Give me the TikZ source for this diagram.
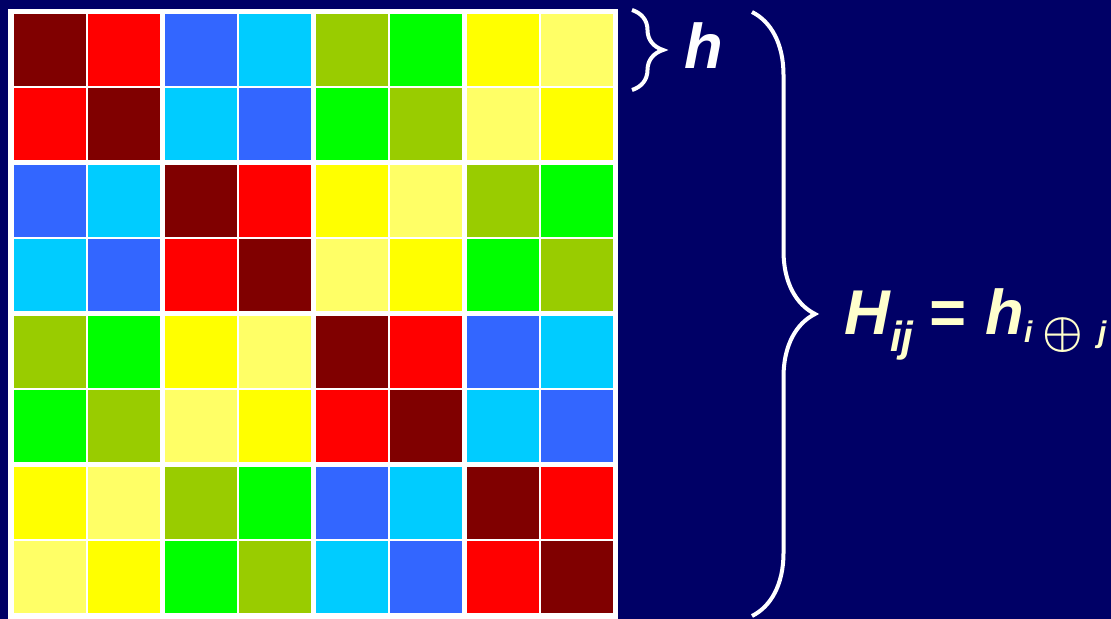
\documentclass[tikz,border=0pt]{standalone}
\usepackage{amsmath}
\usepackage{fontspec}
\setmainfont{Liberation Sans}
\usepackage{graphicx}
\usepackage{tikz}
\usetikzlibrary{decorations.pathreplacing}
\definecolor{bgnavy}{HTML}{000066}
\definecolor{labelcream}{HTML}{FFFFCC}
\definecolor{col0}{HTML}{800000}
\definecolor{col1}{HTML}{FF0000}
\definecolor{col2}{HTML}{3366FF}
\definecolor{col3}{HTML}{00CCFF}
\definecolor{col4}{HTML}{99CC00}
\definecolor{col5}{HTML}{00FF00}
\definecolor{col6}{HTML}{FFFF00}
\definecolor{col7}{HTML}{FFFF66}

\begin{document}
\begin{tikzpicture}[
  x=0.2mm, y=-0.2mm,
  brc/.style={decorate, draw=white, line width=0.8mm,
              decoration={brace, amplitude=#1}},
  lab/.style={anchor=base west, inner sep=0pt,
              font=\fontsize{36}{40}\selectfont\bfseries\itshape},
]
% background and white grid frame
\fill[bgnavy] (0,0) rectangle (1111,619);
\fill[white] (8,9) rectangle (618,619);

% cell (i,j) gets colour i xor j
\foreach \i in {0,...,7}{
  \foreach \j in {0,...,7}{
    \pgfmathtruncatemacro\k{mod(\i+\j,2)+2*mod(int(\i/2)+int(\j/2),2)+4*mod(int(\i/4)+int(\j/4),2)}
    \pgfmathsetmacro\cx{14+151*int(\j/2)+74*mod(\j,2)}
    \pgfmathsetmacro\cy{14+151*int(\i/2)+74*mod(\i,2)}
    \fill[col\k] (\cx,\cy) rectangle ++(72,72);
  }
}

% braces
\coordinate (st) at (632,10);
\coordinate (sb) at (632,90);
\coordinate (bt) at (752,12);
\coordinate (bb) at (752,616);
\draw[brc=6.2mm] (st) -- (sb);
\draw[brc=12.6mm] (bt) -- (bb);

% labels
\node[lab, text=white] (hlab) at (684,69) {h};
\node[lab, text=labelcream] (form) at (844,335)
  {H\raisebox{-3.4mm}{\fontsize{24}{24}\selectfont ij}\hspace{3mm}=\hspace{4mm}h\raisebox{-1.6mm}{\fontsize{17}{17}\selectfont
   i\hspace{2mm}\raisebox{-0.7mm}{\scalebox{1.5}{$\boldsymbol{\oplus}$}}\hspace{3mm}j}};
\end{tikzpicture}
\end{document}
